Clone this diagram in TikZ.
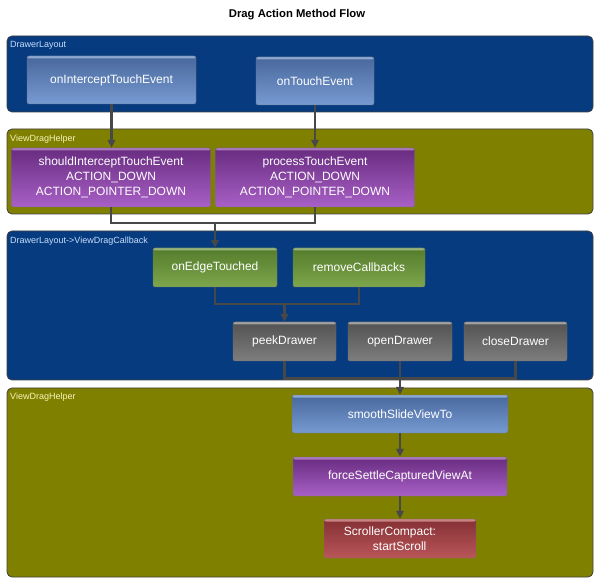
\documentclass[tikz,border=0pt]{standalone}
\usepackage{fontspec}
\setmainfont{Liberation Sans}
\usetikzlibrary{arrows.meta}
\definecolor{contblue}{RGB}{6,59,128}
\definecolor{contolive}{RGB}{128,128,0}
\definecolor{bluelbl}{RGB}{200,222,250}
\definecolor{olivelbl}{RGB}{245,245,185}
\definecolor{linec}{RGB}{72,72,72}
\definecolor{bluetop}{RGB}{72,104,156}
\definecolor{bluebot}{RGB}{118,154,210}
\definecolor{bluehl}{RGB}{140,168,210}
\definecolor{purptop}{RGB}{104,44,128}
\definecolor{purpbot}{RGB}{168,96,198}
\definecolor{purphl}{RGB}{170,120,190}
\definecolor{greentop}{RGB}{84,124,44}
\definecolor{greenbot}{RGB}{126,166,76}
\definecolor{greenhl}{RGB}{150,180,120}
\definecolor{graytop}{RGB}{82,82,82}
\definecolor{graybot}{RGB}{126,126,126}
\definecolor{grayhl}{RGB}{160,160,160}
\definecolor{redtop}{RGB}{132,48,52}
\definecolor{redbot}{RGB}{186,86,90}
\definecolor{redhl}{RGB}{200,130,130}
\tikzset{
  container/.style={draw=black!75, line width=0.8pt, rounded corners=5pt},
  contlabel/.style={anchor=west, inner sep=0pt, font=\fontsize{9}{10}\selectfont},
  fbox/.style n args={3}{rectangle, rounded corners=2pt, top color=#1, bottom color=#2,
    draw=black!55, line width=0.4pt, text=white, align=center,
    font=\fontsize{12}{15}\selectfont, inner sep=2pt,
    path picture={\fill[#3] (path picture bounding box.north west) rectangle ([yshift=-2.5pt]path picture bounding box.north east);}},
  bluebox/.style={fbox={bluetop}{bluebot}{bluehl}},
  purplebox/.style={fbox={purptop}{purpbot}{purphl}},
  greenbox/.style={fbox={greentop}{greenbot}{greenhl}},
  graybox/.style={fbox={graytop}{graybot}{grayhl}},
  redbox/.style={fbox={redtop}{redbot}{redhl}},
  conn/.style={draw=linec, line width=2.2pt},
  arr/.style={conn, -{Triangle[length=8pt,width=7.5pt]}},
}
\begin{document}
\begin{tikzpicture}[x=1pt,y=-1pt]
\useasboundingbox[fill=white] (0,0) rectangle (600,585);
% title
\node[font=\bfseries\fontsize{11.3}{13}\selectfont] (title) at (297,15) {Drag Action Method Flow};
% containers
\draw[container, fill=contblue] (7,36) rectangle (593,112);
\node[contlabel, text=bluelbl] (l1) at (10,45) {DrawerLayout};
\draw[container, fill=contolive] (7,129) rectangle (593,214);
\node[contlabel, text=olivelbl] (l2) at (10,139) {ViewDragHelper};
\draw[container, fill=contblue] (7,231) rectangle (593,380);
\node[contlabel, text=bluelbl] (l3) at (10,241) {DrawerLayout->ViewDragCallback};
\draw[container, fill=contolive] (7,388) rectangle (593,577);
\node[contlabel, text=olivelbl] (l4) at (10,397) {ViewDragHelper};
% nodes
\node[bluebox, minimum width=169pt, minimum height=48pt] (oi) at (111.5,80) {onInterceptTouchEvent};
\node[bluebox, minimum width=118pt, minimum height=48pt] (ot) at (315,81) {onTouchEvent};
\node[purplebox, minimum width=199pt, minimum height=59pt] (sit) at (111,177.5) {shouldInterceptTouchEvent\\ACTION\_DOWN\\ACTION\_POINTER\_DOWN};
\node[purplebox, minimum width=199pt, minimum height=59pt] (pte) at (315,177.5) {processTouchEvent\\ACTION\_DOWN\\ACTION\_POINTER\_DOWN};
\node[greenbox, minimum width=124pt, minimum height=39pt] (oet) at (215,267.5) {onEdgeTouched};
\node[greenbox, minimum width=132pt, minimum height=39pt] (rc) at (359,267.5) {removeCallbacks};
\node[graybox, minimum width=103pt, minimum height=39pt] (pd) at (284.5,341.5) {peekDrawer};
\node[graybox, minimum width=104pt, minimum height=39pt] (od) at (400,341.5) {openDrawer};
\node[graybox, minimum width=103pt, minimum height=39pt] (cd) at (515.5,341.5) {closeDrawer};
\node[bluebox, minimum width=216pt, minimum height=38pt] (ss) at (400,414) {smoothSlideViewTo};
\node[purplebox, minimum width=214pt, minimum height=39pt] (fs) at (400,476.5) {forceSettleCapturedViewAt};
\node[redbox, minimum width=152pt, minimum height=39pt, align=left] (sc) at (400,538.5) {ScrollerCompact:\hspace*{20pt}\\\hspace*{29pt}startScroll};
% junctions
\coordinate (j1) at (215,223);
\coordinate (j2) at (284.5,304);
\coordinate (j3) at (400,378.5);
% connectors
\draw[arr] (oi.south) -- (oi.south |- sit.north);
\draw[arr] (ot.south) -- (ot.south |- pte.north);
\draw[conn] (sit.south) |- (j1) -| (pte.south);
\draw[arr] (j1) -- (oet.north);
\draw[conn] (oet.south) |- (j2) -| (rc.south);
\draw[arr] (j2) -- (pd.north);
\draw[conn] (pd.south) |- (j3) -| (cd.south);
\draw[conn] (od.south) -- (j3);
\draw[arr] (j3) -- (ss.north);
\draw[arr] (ss.south) -- (fs.north);
\draw[arr] (fs.south) -- (sc.north);
\end{tikzpicture}
\end{document}
